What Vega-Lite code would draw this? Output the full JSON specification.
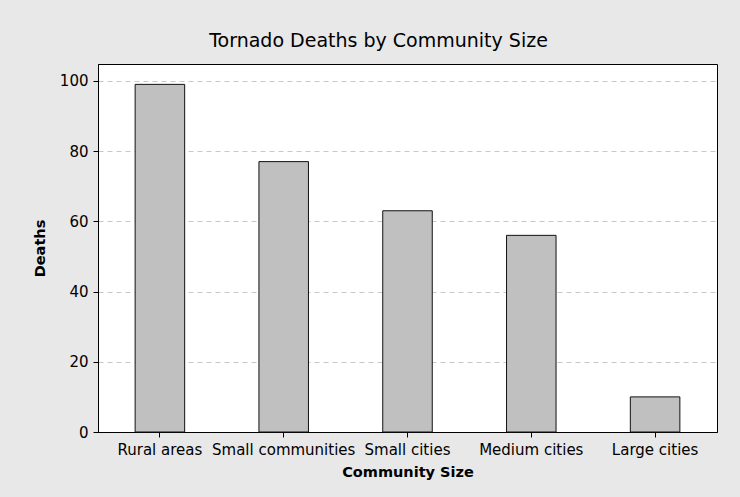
{
  "$schema": "https://vega.github.io/schema/vega-lite/v6.json",
  "autosize": {"type": "none"},
  "width": 619,
  "height": 368,
  "padding": {"left": 98, "top": 64, "right": 23, "bottom": 65},
  "background": "#E8E8E8",
  "title": {
    "text": "Tornado Deaths by Community Size",
    "font": "DejaVu Sans",
    "fontSize": 19,
    "fontWeight": "normal",
    "color": "#000000",
    "anchor": "middle",
    "dx": -29,
    "dy": 19,
    "offset": 17,
    "baseline": "alphabetic"
  },
  "config": {
    "view": {"stroke": "#000000", "strokeWidth": 1, "fill": "#FFFFFF"},
    "axis": {
      "labelFont": "DejaVu Sans",
      "labelFontSize": 15,
      "labelColor": "#000000",
      "titleFont": "DejaVu Sans",
      "titleFontSize": 14.5,
      "titleFontWeight": "bold",
      "titleColor": "#000000",
      "domainColor": "#000000",
      "tickColor": "#000000",
      "tickSize": 5
    }
  },
  "data": {
    "values": [
      {"community": "Rural areas", "deaths": 99},
      {"community": "Small communities", "deaths": 77},
      {"community": "Small cities", "deaths": 63},
      {"community": "Medium cities", "deaths": 56},
      {"community": "Large cities", "deaths": 10}
    ]
  },
  "mark": {"type": "bar", "fill": "#C0C0C0", "stroke": "#111111", "strokeWidth": 1},
  "encoding": {
    "x": {
      "field": "community",
      "type": "nominal",
      "sort": null,
      "scale": {"paddingInner": 0.6, "paddingOuter": 0.3},
      "axis": {
        "title": "Community Size",
        "labelAngle": 0,
        "labelPadding": 5,
        "titlePadding": 8,
        "grid": false
      }
    },
    "y": {
      "field": "deaths",
      "type": "quantitative",
      "scale": {"domain": [0, 104.8], "nice": false, "zero": true},
      "axis": {
        "title": "Deaths",
        "values": [0, 20, 40, 60, 80, 100],
        "labelPadding": 5,
        "titlePadding": 12,
        "grid": true,
        "gridColor": "#C8C8C8",
        "gridDash": [5, 4],
        "gridWidth": 1
      }
    }
  }
}
